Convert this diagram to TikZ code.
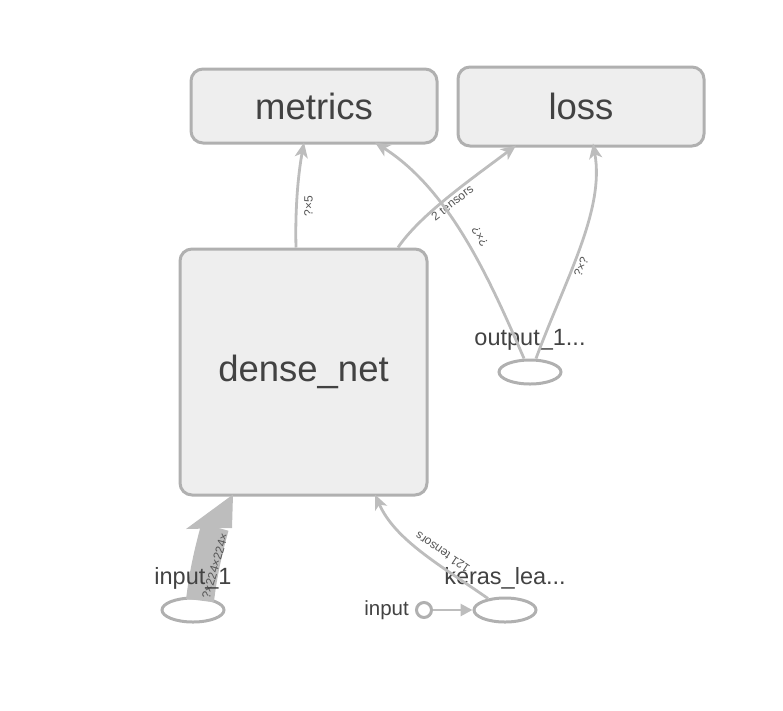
\documentclass[tikz,border=0pt]{standalone}
\usepackage{fontspec}
\setmainfont{Liberation Sans}
\usetikzlibrary{arrows.meta,shapes.geometric}
\definecolor{boxfill}{HTML}{EEEEEE}
\definecolor{boxline}{HTML}{B0B0B0}
\definecolor{edgecol}{HTML}{BDBDBD}
\definecolor{txt}{HTML}{424242}
\tikzset{
  opbox/.style={draw=boxline,fill=boxfill,line width=3pt,rounded corners=12pt,text=txt,font=\fontsize{36.5}{39}\selectfont,inner sep=0pt},
  ellnode/.style={draw=boxline,ellipse,line width=3pt,minimum width=62pt,minimum height=24pt,inner sep=0pt},
  nlabel/.style={text=txt,font=\fontsize{23.5}{25}\selectfont,inner sep=0pt},
  flow/.style={draw=edgecol,line width=2.8pt,-{Stealth[length=15pt,width=13pt,inset=4pt]}},
  elabel/.style={text=txt!90,font=\fontsize{12}{13}\selectfont,inner sep=1pt}
}
\begin{document}
\begin{tikzpicture}[x=1pt,y=-1pt]
\useasboundingbox (0,0) rectangle (783,710);
\node[opbox,minimum width=246pt,minimum height=74pt] (metrics) at (314,106) {metrics};
\node[opbox,minimum width=246pt,minimum height=79pt] (loss) at (581,106.5) {loss};
\node[opbox,minimum width=247pt,minimum height=246pt] (dense) at (303.5,372) {dense\_net};
\node[ellnode] (out) at (530,372) {};
\node[nlabel] (outl) at (530,340) {output\_1...};
% thick edge input_1 -> dense_net (drawn first so the ellipse lies on top)
\coordinate (bandtop) at (215,527);
\node[ellnode] (in1) at (193,610) {};
\draw[draw=edgecol,line width=28pt] ([xshift=7pt,yshift=-4pt]in1.north) .. controls (203,575) and (208,552) .. (bandtop);
\fill[edgecol] ([xshift=-70.5pt,yshift=2pt]dense.south) -- (186,529) -- (232,528) -- cycle;
\node[elabel,rotate=74] (in1lab) at (215,566) {?×224×224×};
\node[nlabel] (in1l) at (193,578) {input\_1};
\node[ellnode] (keras) at (505,610) {};
\node[nlabel] (kerasl) at (505,578) {keras\_lea...};
\node[draw=boxline,circle,line width=3pt,minimum size=15pt,inner sep=0pt] (inc) at (424,610) {};
\node[nlabel,font=\fontsize{20.5}{22}\selectfont,anchor=east] (incl) at (409,610) {input};
% edges
\draw[flow] ([xshift=-7.5pt]dense.north) .. controls (295,210) and (298,175) .. ([xshift=-10pt,yshift=2pt]metrics.south)
  node[elabel,pos=0.38,rotate=90,yshift=-12pt] {?×5};
\draw[flow] ([xshift=94.5pt]dense.north) .. controls (420,215) and (470,180) .. ([xshift=-65pt,yshift=2pt]loss.south)
  node[elabel,pos=0.5,rotate=38,yshift=-7pt] {2 tensors};
\draw[flow] ([xshift=-6pt]out.north) .. controls (490,280) and (450,190) .. ([xshift=61pt,yshift=2pt]metrics.south)
  node[elabel,pos=0.48,rotate=120,yshift=-14pt] {?×?};
\draw[flow] ([xshift=6pt]out.north) .. controls (565,280) and (605,210) .. ([xshift=12pt,yshift=4pt]loss.south)
  node[elabel,pos=0.42,rotate=68,yshift=-8pt] {?×?};
\draw[flow] ([xshift=-17pt,yshift=-2pt]keras.north) .. controls (440,565) and (395,540) .. ([xshift=71.5pt,yshift=2pt]dense.south)
  node[elabel,pos=0.38,rotate=146,yshift=-12pt] {121 tensors};
\draw[draw=edgecol,line width=2.8pt,-{Triangle[length=12pt,width=12pt]}] (inc.east) -- (keras.west);
\end{tikzpicture}
\end{document}
